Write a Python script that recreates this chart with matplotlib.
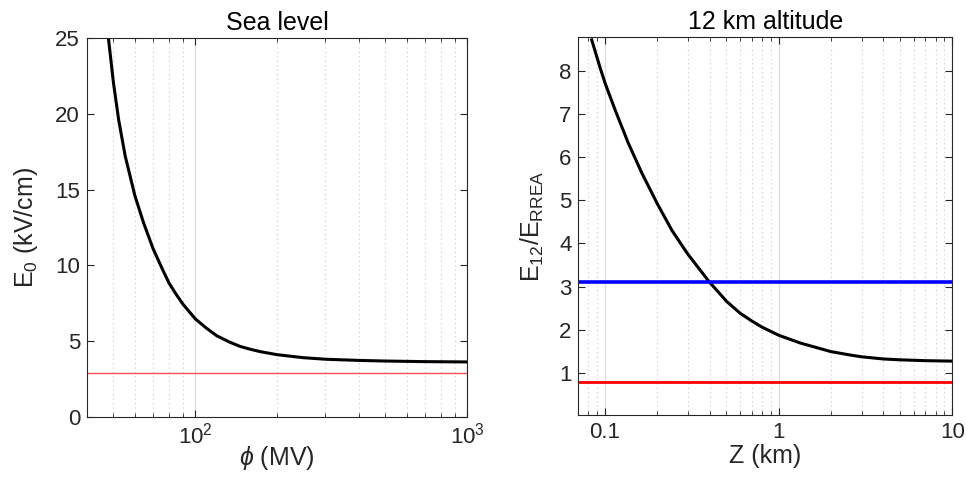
"""Two panels: breakdown field vs potential (sea level) and vs Z (12 km)."""
import numpy as np
import matplotlib
matplotlib.use("Agg")
import matplotlib.pyplot as plt
from matplotlib.ticker import LogLocator, NullFormatter, FixedLocator

plt.rcParams["font.family"] = ["Liberation Sans", "DejaVu Sans"]
plt.rcParams["mathtext.fontset"] = "custom"
plt.rcParams["mathtext.rm"] = "Liberation Sans"
plt.rcParams["mathtext.it"] = "Liberation Sans:italic"

# --- sea level panel ---
phi_mv = [48.0, 50.0, 52.3, 55.3, 60.0, 64.6, 70.0, 75.5, 80.0, 85.0, 90.0,
          100.0, 110.0, 120.0, 133.0, 146.0, 160.0, 173.5, 200.0, 250.0,
          300.0, 400.0, 500.0, 700.0, 1000.0]
e0_kvcm = [24.93, 22.1, 19.6, 17.2, 14.6, 12.8, 11.1, 9.8, 8.85, 8.1, 7.45,
           6.47, 5.85, 5.35, 4.95, 4.65, 4.45, 4.30, 4.10, 3.90,
           3.80, 3.72, 3.68, 3.64, 3.62]
e_rrea_sea = 2.86

# --- 12 km panel ---
z_km = [0.0838, 0.0936, 0.1, 0.1142, 0.136, 0.163, 0.2, 0.243, 0.283, 0.3,
        0.35, 0.4, 0.5, 0.6, 0.7, 0.8, 0.9, 1.0, 1.33, 2.0, 2.59, 3.0, 4.0,
        5.0, 7.0, 10.0]
e12_ratio = [8.72, 8.08, 7.72, 7.10, 6.33, 5.63, 4.92, 4.30, 3.90, 3.75,
             3.40, 3.10, 2.66, 2.38, 2.20, 2.06, 1.96, 1.87, 1.69, 1.49,
             1.41, 1.37, 1.32, 1.30, 1.28, 1.27]
ratio_blue = 3.1
ratio_red = 0.78

AX_COLOR = "#262626"


def style_axes(ax):
    for sp in ax.spines.values():
        sp.set_color(AX_COLOR)
        sp.set_linewidth(0.8)
    ax.tick_params(which="both", direction="in", top=True, right=True,
                   colors=AX_COLOR, labelsize=16, labelcolor=AX_COLOR)
    ax.tick_params(which="major", length=5)
    ax.tick_params(which="minor", length=3)
    ax.xaxis.set_minor_locator(LogLocator(base=10, subs=np.arange(2, 10)))
    ax.xaxis.set_minor_formatter(NullFormatter())
    ax.grid(True, which="major", axis="x", color="#dcdcdc", lw=0.9, ls="-")
    ax.grid(True, which="minor", axis="x", color="#c8c8c8", lw=0.8,
            ls=(0, (1, 3)))
    ax.set_axisbelow(True)


fig = plt.figure(figsize=(9.66, 4.79), dpi=100)

ax1 = fig.add_axes([0.0901, 0.130, 0.3934, 0.790])
ax1.set_xscale("log")
ax1.plot(phi_mv, e0_kvcm, color="black", lw=2.2, solid_joinstyle="round")
ax1.axhline(e_rrea_sea, color="#ff5050", lw=1.0)
ax1.set_xlim(40, 1000)
ax1.set_ylim(0, 25)
ax1.xaxis.set_major_locator(FixedLocator([100, 1000]))
ax1.set_xticklabels([r"$10^2$", r"$10^3$"])
ax1.set_yticks([0, 5, 10, 15, 20, 25])
style_axes(ax1)
ax1.tick_params(axis="x", pad=4)
ax1.tick_params(axis="y", pad=5)
ax1.set_title("Sea level", fontsize=18, color="black", pad=6)
ax1.set_xlabel(r"$\phi$ (MV)", fontsize=18, color=AX_COLOR, labelpad=-3)
ax1.set_ylabel(r"E$_0$ (kV/cm)", fontsize=18, color=AX_COLOR, labelpad=11)

ax2 = fig.add_axes([0.5987, 0.1336, 0.3872, 0.7885])
ax2.set_xscale("log")
ax2.plot(z_km, e12_ratio, color="black", lw=2.2, solid_joinstyle="round")
ax2.axhline(ratio_blue, color="#0000ff", lw=2.6)
ax2.axhline(ratio_red, color="#ff0000", lw=2.0)
ax2.set_xlim(0.0702, 10)
ax2.set_ylim(0.02, 8.78)
ax2.xaxis.set_major_locator(FixedLocator([0.1, 1, 10]))
ax2.set_xticklabels(["0.1", "1", "10"])
ax2.set_yticks([1, 2, 3, 4, 5, 6, 7, 8])
style_axes(ax2)
ax2.tick_params(axis="x", pad=5)
ax2.tick_params(axis="y", pad=5)
ax2.set_title("12 km altitude", fontsize=18, color="black", pad=6)
ax2.set_xlabel("Z (km)", fontsize=18, color=AX_COLOR, labelpad=1)
ax2.set_ylabel(r"E$_{12}$/E$_{\rm RREA}$", fontsize=18, color=AX_COLOR,
               labelpad=9)

fig.savefig("out.png", dpi=100)
